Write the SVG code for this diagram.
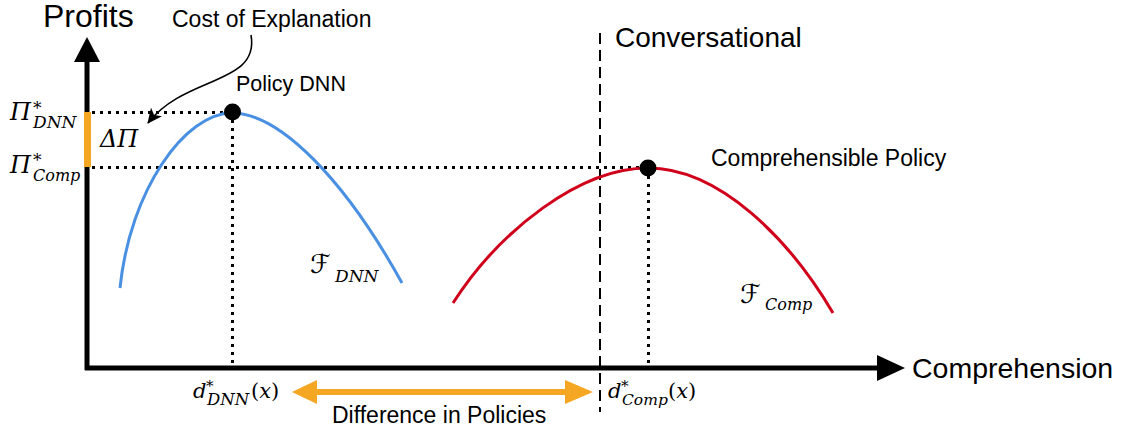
<svg xmlns="http://www.w3.org/2000/svg" width="1124" height="432" viewBox="0 0 1124 432">
<style>
.lbl{font-family:"Liberation Sans",Arial,sans-serif;fill:#000}
.m{font-family:"DejaVu Serif","Liberation Serif",serif;font-style:italic;fill:#000}
.mu{font-family:"DejaVu Serif","Liberation Serif",serif;font-style:normal;fill:#000}
.cal{font-family:"DejaVu Sans","Noto Sans",sans-serif;font-style:normal;fill:#000}
.dot{stroke:#000;stroke-width:3;stroke-dasharray:3 5;fill:none}
.axis{stroke:#000;stroke-width:5;fill:none}
</style>
<defs>
<marker id="barb" markerUnits="userSpaceOnUse" markerWidth="16" markerHeight="14" refX="14" refY="7" orient="auto">
<path d="M0,0 L15,7 L0,14 L4,7 z" fill="#000"/>
</marker>
</defs>
<rect width="1124" height="432" fill="#fff"/>
<g id="axes">
<line class="axis" x1="87" y1="370" x2="87" y2="58"/>
<polygon points="87,37 100,62 74,62" fill="#000"/>
<line class="axis" x1="85" y1="368" x2="880" y2="368"/>
<polygon points="905,368 877,355 877,381" fill="#000"/>
<rect x="84" y="112" width="7" height="55" fill="#F5A623"/>
</g>
<g id="connectors">
<line class="dot" x1="92" y1="112.5" x2="228" y2="112.5"/>
<line class="dot" x1="92" y1="167.5" x2="644" y2="167.5"/>
<line class="dot" x1="232.5" y1="120" x2="232.5" y2="366"/>
<line class="dot" x1="648.5" y1="176" x2="648.5" y2="366"/>
<line x1="600" y1="33" x2="600" y2="412" stroke="#000" stroke-width="2" stroke-dasharray="11 6"/>
<path d="M251,35 C260,85 185,75 148,123" fill="none" stroke="#000" stroke-width="1.6" marker-end="url(#barb)"/>
<line x1="314" y1="392" x2="568" y2="392" stroke="#F5A623" stroke-width="6"/>
<polygon points="292,392 317,380 317,404" fill="#F5A623"/>
<polygon points="593,392 565,380 565,404" fill="#F5A623"/>
</g>
<g id="curve-dnn">
<path d="M120,288 C130,190 185,113 232,113 C280,113 345,180 402,283" fill="none" stroke="#4A90E2" stroke-width="3"/>
<circle cx="232.5" cy="112" r="8.5" fill="#000"/>
</g>
<g id="curve-comp">
<path d="M453,303 C500,230 580,168 648,168 C720,168 790,240 833,313" fill="none" stroke="#D0021B" stroke-width="3"/>
<circle cx="648" cy="168" r="8.5" fill="#000"/>
</g>
<g id="labels">
<text class="lbl" x="43" y="27" font-size="32">Profits</text>
<text class="lbl" x="172" y="27" font-size="23">Cost of Explanation</text>
<text class="lbl" x="236" y="91" font-size="21.5">Policy DNN</text>
<text class="lbl" x="615" y="47" font-size="28">Conversational</text>
<text class="lbl" x="711" y="166" font-size="23">Comprehensible Policy</text>
<text class="lbl" x="912" y="378" font-size="28.5">Comprehension</text>
<text class="lbl" x="332" y="423" font-size="23">Difference in Policies</text>
</g>
<g id="math">
<text class="m" x="10" y="120" font-size="24">Π<tspan class="mu" x="33" y="114" font-size="17">*</tspan><tspan x="33" y="128" font-size="17">DNN</tspan></text>
<text class="m" x="10" y="173" font-size="24">Π<tspan class="mu" x="33" y="166" font-size="17">*</tspan><tspan x="33" y="181" font-size="16">Comp</tspan></text>
<text class="m" x="100" y="147" font-size="24">ΔΠ</text>
<text class="cal" x="310" y="273" font-size="26">ℱ<tspan class="m" x="335" y="282" font-size="17">DNN</tspan></text>
<text class="cal" x="740" y="303" font-size="26">ℱ<tspan class="m" x="765" y="310" font-size="16">Comp</tspan></text>
<text class="m" x="193" y="398" font-size="21">d<tspan class="mu" x="206" y="391" font-size="15">*</tspan><tspan x="207" y="405" font-size="16.5">DNN</tspan><tspan class="mu" x="251" y="398" font-size="21">(</tspan><tspan font-size="21">x</tspan><tspan class="mu" font-size="21">)</tspan></text>
<text class="m" x="608" y="398" font-size="21">d<tspan class="mu" x="621" y="391" font-size="15">*</tspan><tspan x="622" y="405" font-size="15.5">Comp</tspan><tspan class="mu" x="668" y="398" font-size="21">(</tspan><tspan font-size="21">x</tspan><tspan class="mu" font-size="21">)</tspan></text>
</g>
</svg>
